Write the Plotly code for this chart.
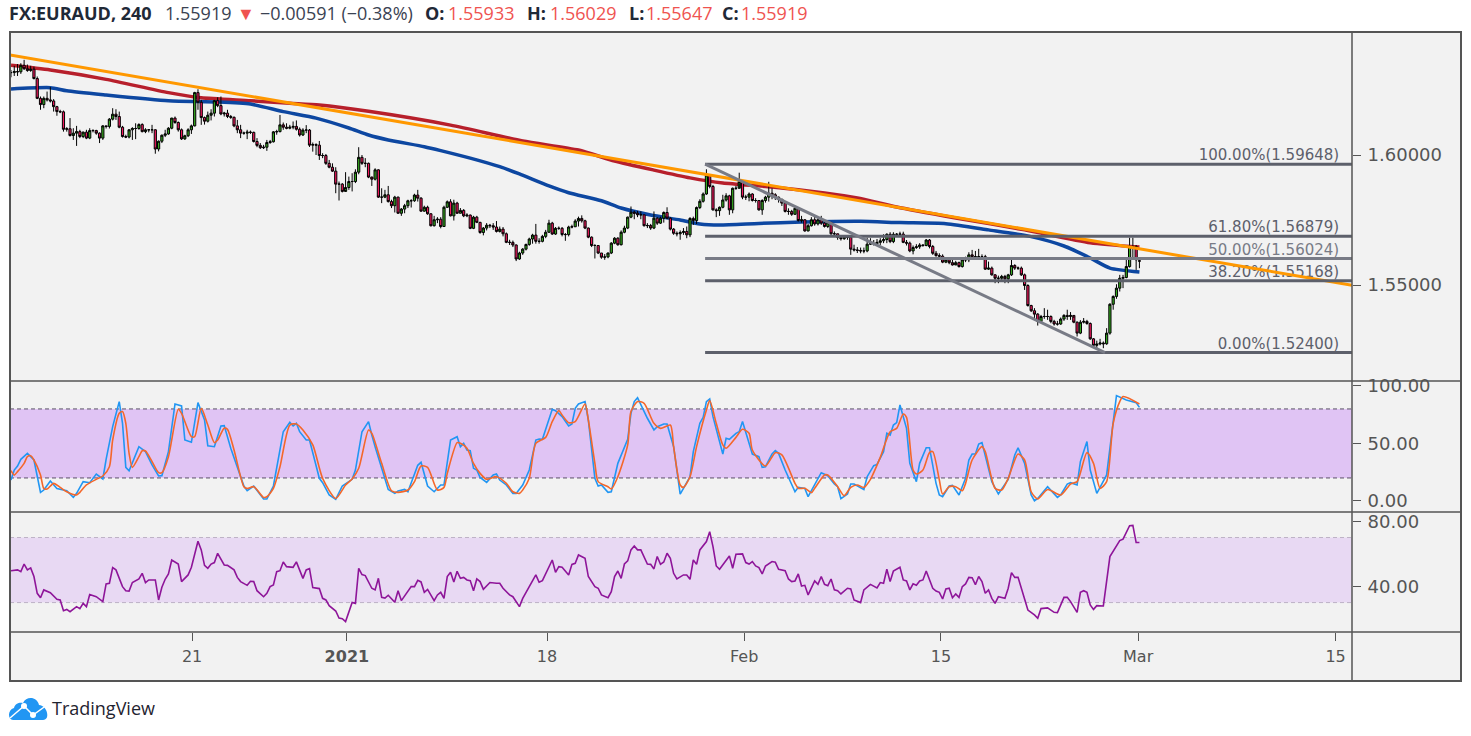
import plotly.graph_objects as go

# precio, velas de 4 horas, una por barra
closes = [1.6317,1.6321,1.6320,1.6345,1.6332,1.6325,1.6330,1.6294,1.6218,1.6194,1.6218,1.6212,1.6208,1.6186,1.6167,1.6166,
          1.6099,1.6101,1.6075,1.6084,1.6090,1.6071,1.6088,1.6065,1.6094,1.6094,1.6084,1.6065,1.6112,1.6110,1.6138,1.6157,
          1.6148,1.6107,1.6071,1.6069,1.6097,1.6102,1.6102,1.6117,1.6090,1.6097,1.6097,1.6097,1.6023,1.6053,1.6076,1.6081,
          1.6103,1.6142,1.6125,1.6097,1.6062,1.6074,1.6097,1.6112,1.6240,1.6203,1.6144,1.6130,1.6153,1.6161,1.6209,1.6190,
          1.6158,1.6161,1.6148,1.6145,1.6112,1.6097,1.6084,1.6084,1.6088,1.6087,1.6052,1.6037,1.6028,1.6030,1.6048,1.6051,
          1.6089,1.6090,1.6116,1.6107,1.6103,1.6107,1.6110,1.6099,1.6077,1.6096,1.6096,1.6038,1.6040,1.6038,1.5998,1.5998,
          1.5968,1.5953,1.5938,1.5888,1.5888,1.5860,1.5875,1.5898,1.5898,1.5934,1.5991,1.5968,1.5968,1.5915,1.5907,1.5943,
          1.5838,1.5838,1.5847,1.5821,1.5805,1.5838,1.5776,1.5792,1.5805,1.5824,1.5824,1.5846,1.5834,1.5784,1.5799,1.5774,
          1.5728,1.5751,1.5753,1.5725,1.5799,1.5820,1.5766,1.5815,1.5776,1.5787,1.5766,1.5769,1.5718,1.5761,1.5741,1.5702,
          1.5719,1.5730,1.5728,1.5723,1.5706,1.5715,1.5697,1.5664,1.5664,1.5654,1.5600,1.5623,1.5638,1.5656,1.5677,1.5692,
          1.5668,1.5668,1.5687,1.5703,1.5738,1.5696,1.5718,1.5718,1.5694,1.5694,1.5723,1.5724,1.5746,1.5756,1.5747,1.5719,
          1.5684,1.5652,1.5652,1.5623,1.5607,1.5608,1.5623,1.5661,1.5680,1.5655,1.5703,1.5719,1.5761,1.5780,1.5776,1.5770,
          1.5770,1.5728,1.5729,1.5719,1.5757,1.5738,1.5757,1.5779,1.5757,1.5715,1.5699,1.5697,1.5702,1.5706,1.5693,1.5756,
          1.5748,1.5798,1.5822,1.5850,1.5923,1.5879,1.5789,1.5786,1.5799,1.5827,1.5843,1.5789,1.5872,1.5872,1.5898,1.5838,
          1.5838,1.5850,1.5825,1.5825,1.5789,1.5825,1.5838,1.5853,1.5847,1.5838,1.5830,1.5815,1.5783,1.5783,1.5772,1.5795,
          1.5748,1.5751,1.5708,1.5728,1.5751,1.5735,1.5751,1.5738,1.5725,1.5740,1.5697,1.5697,1.5683,1.5678,1.5684,1.5684,
          1.5638,1.5635,1.5633,1.5631,1.5631,1.5657,1.5659,1.5659,1.5664,1.5670,1.5675,1.5695,1.5667,1.5695,1.5695,1.5696,
          1.5664,1.5661,1.5631,1.5644,1.5647,1.5654,1.5652,1.5673,1.5648,1.5622,1.5613,1.5611,1.5588,1.5597,1.5586,1.5577,
          1.5586,1.5571,1.5597,1.5597,1.5616,1.5609,1.5609,1.5609,1.5609,1.5561,1.5565,1.5539,1.5526,1.5526,1.5533,1.5524,
          1.5539,1.5575,1.5565,1.5565,1.5539,1.5498,1.5421,1.5401,1.5388,1.5360,1.5379,1.5379,1.5379,1.5360,1.5350,1.5350,
          1.5369,1.5383,1.5379,1.5383,1.5357,1.5315,1.5357,1.5360,1.5352,1.5293,1.5268,1.5273,1.5277,1.5274,1.5315,1.5426,
          1.5456,1.5488,1.5526,1.5529,1.5571,1.5648,1.5648,1.5597,1.55919]
highs = [1.6327,1.6343,1.6350,1.6353,1.6366,1.6348,1.6343,1.6340,1.6302,1.6225,1.6225,1.6244,1.6261,1.6215,1.6189,1.6174,
         1.6171,1.6107,1.6142,1.6103,1.6112,1.6097,1.6090,1.6097,1.6103,1.6099,1.6097,1.6087,1.6115,1.6112,1.6142,1.6180,
         1.6176,1.6167,1.6112,1.6078,1.6099,1.6107,1.6122,1.6122,1.6122,1.6103,1.6099,1.6116,1.6099,1.6056,1.6079,1.6097,
         1.6107,1.6143,1.6148,1.6129,1.6102,1.6078,1.6103,1.6117,1.6243,1.6253,1.6212,1.6148,1.6167,1.6176,1.6212,1.6222,
         1.6225,1.6166,1.6174,1.6154,1.6148,1.6135,1.6116,1.6090,1.6097,1.6094,1.6090,1.6065,1.6046,1.6039,1.6058,1.6058,
         1.6092,1.6097,1.6154,1.6125,1.6122,1.6116,1.6129,1.6133,1.6106,1.6103,1.6115,1.6100,1.6048,1.6045,1.6054,1.6007,
         1.6004,1.5981,1.5968,1.5953,1.5898,1.5892,1.5934,1.5917,1.5930,1.5945,1.6030,1.6000,1.5988,1.5971,1.5917,1.5949,
         1.5945,1.5872,1.5866,1.5881,1.5828,1.5843,1.5840,1.5796,1.5812,1.5828,1.5830,1.5851,1.5866,1.5838,1.5805,1.5805,
         1.5776,1.5766,1.5761,1.5761,1.5805,1.5825,1.5830,1.5828,1.5820,1.5796,1.5792,1.5776,1.5771,1.5766,1.5766,1.5743,
         1.5723,1.5738,1.5735,1.5738,1.5746,1.5725,1.5723,1.5702,1.5674,1.5671,1.5656,1.5628,1.5642,1.5659,1.5682,1.5697,
         1.5735,1.5680,1.5693,1.5712,1.5751,1.5743,1.5723,1.5725,1.5723,1.5700,1.5728,1.5732,1.5753,1.5763,1.5768,1.5751,
         1.5721,1.5687,1.5657,1.5651,1.5623,1.5619,1.5625,1.5665,1.5684,1.5684,1.5710,1.5728,1.5763,1.5802,1.5786,1.5785,
         1.5783,1.5770,1.5738,1.5735,1.5783,1.5761,1.5763,1.5783,1.5799,1.5761,1.5719,1.5706,1.5710,1.5719,1.5725,1.5761,
         1.5763,1.5802,1.5830,1.5856,1.5945,1.5927,1.5885,1.5795,1.5802,1.5847,1.5853,1.5847,1.5875,1.5881,1.5932,1.5904,
         1.5847,1.5856,1.5853,1.5834,1.5827,1.5830,1.5843,1.5897,1.5872,1.5853,1.5840,1.5825,1.5817,1.5795,1.5789,1.5802,
         1.5789,1.5766,1.5753,1.5735,1.5761,1.5763,1.5757,1.5766,1.5751,1.5748,1.5743,1.5706,1.5697,1.5689,1.5692,1.5692,
         1.5687,1.5655,1.5646,1.5644,1.5644,1.5682,1.5680,1.5673,1.5677,1.5680,1.5695,1.5699,1.5703,1.5703,1.5700,1.5705,
         1.5705,1.5673,1.5667,1.5652,1.5657,1.5661,1.5657,1.5677,1.5677,1.5654,1.5631,1.5622,1.5618,1.5603,1.5603,1.5603,
         1.5593,1.5590,1.5603,1.5609,1.5626,1.5635,1.5631,1.5639,1.5618,1.5616,1.5590,1.5571,1.5542,1.5536,1.5539,1.5539,
         1.5543,1.5597,1.5580,1.5571,1.5571,1.5544,1.5503,1.5424,1.5411,1.5392,1.5385,1.5411,1.5405,1.5383,1.5366,1.5362,
         1.5375,1.5388,1.5405,1.5396,1.5373,1.5360,1.5365,1.5373,1.5366,1.5356,1.5296,1.5286,1.5293,1.5283,1.5334,1.5430,
         1.5460,1.5503,1.5539,1.5539,1.5597,1.5682,1.5682,1.5654,1.56029]
lows = [1.6299,1.6304,1.6304,1.6312,1.6327,1.6320,1.6320,1.6291,1.6215,1.6174,1.6180,1.6206,1.6202,1.6167,1.6151,1.6161,
        1.6090,1.6090,1.6071,1.6058,1.6035,1.6065,1.6065,1.6061,1.6061,1.6087,1.6078,1.6046,1.6058,1.6102,1.6102,1.6133,
        1.6135,1.6103,1.6067,1.6065,1.6064,1.6058,1.6061,1.6097,1.6087,1.6084,1.6087,1.6084,1.6005,1.6014,1.6046,1.6069,
        1.6078,1.6099,1.6120,1.6090,1.6058,1.6058,1.6069,1.6081,1.6110,1.6174,1.6116,1.6117,1.6125,1.6133,1.6148,1.6184,
        1.6153,1.6148,1.6142,1.6139,1.6107,1.6084,1.6065,1.6078,1.6061,1.6081,1.6048,1.6030,1.6023,1.6023,1.6016,1.6043,
        1.6048,1.6078,1.6087,1.6097,1.6099,1.6099,1.6099,1.6094,1.6071,1.6073,1.6084,1.6031,1.6013,1.6000,1.5981,1.5988,
        1.5962,1.5949,1.5935,1.5853,1.5825,1.5856,1.5866,1.5866,1.5860,1.5892,1.5926,1.5962,1.5953,1.5911,1.5881,1.5902,
        1.5835,1.5815,1.5834,1.5817,1.5796,1.5779,1.5774,1.5766,1.5776,1.5796,1.5798,1.5820,1.5821,1.5782,1.5782,1.5770,
        1.5725,1.5725,1.5738,1.5718,1.5723,1.5796,1.5764,1.5748,1.5774,1.5776,1.5761,1.5761,1.5715,1.5715,1.5738,1.5697,
        1.5691,1.5710,1.5719,1.5712,1.5702,1.5702,1.5687,1.5661,1.5654,1.5646,1.5592,1.5597,1.5616,1.5633,1.5651,1.5659,
        1.5659,1.5659,1.5664,1.5680,1.5700,1.5693,1.5693,1.5712,1.5687,1.5670,1.5687,1.5718,1.5723,1.5725,1.5740,1.5715,
        1.5680,1.5646,1.5602,1.5619,1.5601,1.5597,1.5603,1.5619,1.5657,1.5651,1.5652,1.5699,1.5715,1.5757,1.5753,1.5761,
        1.5753,1.5725,1.5719,1.5712,1.5715,1.5731,1.5735,1.5740,1.5753,1.5710,1.5693,1.5687,1.5674,1.5693,1.5680,1.5684,
        1.5731,1.5735,1.5792,1.5817,1.5847,1.5872,1.5786,1.5761,1.5766,1.5795,1.5821,1.5770,1.5776,1.5866,1.5891,1.5830,
        1.5827,1.5822,1.5821,1.5817,1.5786,1.5770,1.5817,1.5821,1.5830,1.5827,1.5817,1.5804,1.5779,1.5770,1.5766,1.5770,
        1.5744,1.5740,1.5705,1.5706,1.5725,1.5728,1.5729,1.5731,1.5721,1.5719,1.5693,1.5689,1.5674,1.5671,1.5674,1.5674,
        1.5616,1.5629,1.5623,1.5622,1.5622,1.5626,1.5654,1.5652,1.5654,1.5654,1.5661,1.5661,1.5661,1.5661,1.5686,1.5686,
        1.5661,1.5652,1.5626,1.5618,1.5639,1.5639,1.5647,1.5649,1.5641,1.5616,1.5609,1.5603,1.5584,1.5584,1.5580,1.5575,
        1.5580,1.5567,1.5567,1.5588,1.5588,1.5597,1.5597,1.5597,1.5600,1.5558,1.5558,1.5536,1.5507,1.5507,1.5520,1.5507,
        1.5507,1.5535,1.5558,1.5558,1.5535,1.5481,1.5417,1.5396,1.5366,1.5344,1.5357,1.5370,1.5366,1.5353,1.5344,1.5344,
        1.5347,1.5362,1.5366,1.5366,1.5353,1.5302,1.5311,1.5352,1.5347,1.5289,1.5260,1.5255,1.5268,1.5257,1.5270,1.5309,
        1.5405,1.5447,1.5475,1.5488,1.5526,1.5567,1.5603,1.5558,1.55647]
last_open = 1.55933

# medias moviles (barra, precio)
ma_blue_x = [0,12,17,29,48,63,73,83,93,103,109,115,126,131,140,149,155,164,170,180,186,195,204,210,216,228,241,259,271,285,298,311,321,329,335,344]
ma_blue = [1.6254,1.6259,1.6247,1.6231,1.6209,1.6204,1.6196,1.6167,1.6142,1.6104,1.6077,1.6058,1.6032,1.6017,1.5988,1.5955,1.5927,1.5881,1.5855,1.5824,1.5796,1.5769,1.5750,1.5735,1.5731,1.5737,1.5742,1.5745,1.5740,1.5736,1.5712,1.5686,1.5650,1.5604,1.5565,1.5550]
ma_red_x = [0,12,29,48,58,73,85,94,109,134,156,173,184,196,207,217,232,248,258,270,288,309,329,344]
ma_red = [1.6345,1.6327,1.6291,1.6240,1.6220,1.6209,1.6199,1.6192,1.6168,1.6115,1.6054,1.6019,1.5977,1.5942,1.5912,1.5892,1.5877,1.5854,1.5835,1.5800,1.5758,1.5712,1.5662,1.5646]

# lineas dibujadas
trend_x = [-0.3, 408.8]
trend_y = [1.63846, 1.5499]
wedge_x = [211.6, 333.5]
wedge_y = [1.59648, 1.5240]
fib_x = [211.6, 408.8]
fib_levels = [1.59648, 1.56879, 1.56024, 1.55168, 1.52400]
fib_labels = ["100.00%(1.59648)", "61.80%(1.56879)", "50.00%(1.56024)", "38.20%(1.55168)", "0.00%(1.52400)"]
fib_colors = ["#5d606b", "#5d606b", "#787b86", "#5d606b", "#5d606b"]

# estocastico
stoch_k_x = [0,1,2,3,5,7,9,10,12,14,17,19,20,22,24,26,28,29,31,33,34,35,36,39,41,43,45,46,48,50,52,53,55,57,59,60,62,64,65,67,71,72,74,75,77,78,80,83,85,86,87,88,90,91,94,95,97,99,101,104,105,107,109,110,111,115,117,118,120,121,124,125,127,129,131,132,134,136,137,138,139,140,141,142,143,145,147,148,149,
             151,153,154,156,158,160,161,162,165,166,168,170,171,172,173,175,176,178,179,180,182,183,185,188,189,190,191,192,194,196,197,199,200,202,204,205,207,208,210,211,212,213,214,216,217,218,219,221,222,223,225,226,228,229,230,232,233,234,236,239,240,242,243,245,247,249,251,252,253,255,256,257,260,261,263,264,266,267,268,269,270,271,273,274,276,277,279,280,282,283,284,286,287,289,291,292,293,294,295,296,297,299,301,
             303,304,306,307,309,311,312,313,316,319,320,322,323,325,326,328,329,331,332,334,337,338,340,343,344]
stoch_k = [18.2,26.9,30.4,36.2,41.4,35.6,7.5,9.5,17.3,10.9,8.9,3.1,6.6,16.8,15.9,23.4,19.1,36.2,64.6,86.4,67.5,29.2,26.3,47.2,42.9,31.3,21.7,22,42.9,84.3,82.6,53,51,85.5,70.4,48,47.2,65.2,65.5,45.8,13,8.9,13,9.5,1.7,1.7,13,60.2,68.4,65.2,67.5,60.2,53,53,19.7,15.9,5.2,1.4,13,18.8,26.9,60.2,69,57.3,47.2,10,6.6,8.6,10,8,31,33.6,13,8,13.9,13.9,53,55.9,47.2,50.1,44.3,43.7,28.4,26.9,20.5,16.2,22.6,23.4,18.2,
           13.9,6.6,6.6,13.9,26.9,53,53.9,53.6,79.7,78.5,73.3,65.2,66.9,80.5,84.3,86.4,70.4,19.7,13,13.9,7.5,8,32.7,53.6,76.2,86.4,89.8,83.5,71.9,61.7,64.6,66.9,66.9,47.2,6,11,21.1,42.9,67.5,72.7,86.4,88.7,73.3,51.6,40.8,54.5,53.6,58.8,60.2,69,50.1,40.8,38.5,29.2,29.8,40.8,43.7,41.4,26.9,8,11.8,10.9,3.7,13.9,24.6,22,14.7,12.4,2,6,14.7,14.7,10,21.1,30.7,31.8,42.9,58.8,57.3,66,68.1,83.5,63.1,32.7,16.8,32.7,46.3,46.3,15.3,5.2,3.7,13,13.6,5.2,19.7,35.6,40.8,40.8,49.5,50.7,40,16.8,6,
           15.3,18.8,40,46.3,32.7,5.2,0.2,2.2,12.4,3.1,5.2,14.7,15.9,13.9,34.2,51.6,26.9,6.6,11.8,22.6,91.6,90.1,87.8,85.5,81.4]
stoch_d_x = [0,1,2,4,5,6,7,9,10,11,13,15,17,20,21,23,26,28,30,31,33,34,35,36,37,39,40,41,43,45,46,48,51,52,55,56,58,60,62,63,65,66,68,71,72,74,77,78,80,82,85,87,89,92,95,99,102,104,106,109,110,113,116,118,121,123,125,127,130,132,133,136,137,139,141,143,145,148,
             151,153,155,156,158,160,163,165,167,168,170,172,175,176,178,179,182,183,185,188,189,191,193,196,198,201,202,204,205,207,209,212,213,215,217,218,221,223,225,226,230,233,235,239,240,242,244,245,248,249,252,254,256,258,260,262,265,268,270,272,273,275,276,278,280,281,283,284,286,288,290,291,293,296,297,300,
             302,304,307,309,311,313,316,320,323,325,328,330,332,334,336,338,339,344]
stoch_d = [26.3,22.5,25.5,32.7,38.5,39.4,35.6,22.6,10.9,10.4,15.3,11.8,8,5.2,7.5,13.9,18.8,21.7,29.8,53,76.2,77.7,67.5,41.4,29.2,38.5,43.7,43.4,34.2,24.6,24.6,38.5,79.7,76.2,55.9,55.9,80.5,66,50.7,53,63.2,62.3,44.3,12.4,10.9,12.4,3.1,3.7,10.9,29.8,66,66.9,61.7,48.7,19.7,2.2,13.9,19.1,28.4,61.7,58.8,32.7,8.9,7.5,9.5,16.8,30.4,29.2,9.5,11.8,24,50.7,50.1,45.8,32.7,24,18.8,21.1,
           15.3,8,6.6,9.5,19.7,50.1,55.3,69,78.5,74.8,68.1,69,84.3,70.4,32.7,16.8,12.4,10.4,21.1,48.7,77.7,86.4,84.9,67.5,63.1,66,47.2,13.9,11.8,21.1,47.2,79.1,87.2,67.5,48.7,45.8,55.3,62.3,58.8,44.3,30.4,42,40,15.3,11,11,7.2,11,22.6,22.6,12.4,4.6,11.8,13.9,11.8,18.8,37.9,60.2,63.1,75.6,72.7,26.9,23.4,26.9,42,42.9,18.2,6,12.4,12.4,8.9,15.3,35.6,47.2,42.9,11,
           9.5,19.7,40.8,35.6,8,1.7,10,5.2,14.7,16.8,42,32.7,11,16.8,67.5,86.4,90.7,84.3]

# rsi
rsi_x = [0,2,3,4,5,6,7,8,9,10,12,14,15,16,17,18,20,21,22,23,24,26,28,29,30,31,32,34,35,36,37,39,40,41,42,44,45,46,47,48,49,51,52,54,55,57,58,59,60,61,62,63,65,66,68,69,70,72,73,74,75,77,78,79,80,81,82,83,84,86,87,89,90,91,92,94,95,96,97,99,100,101,102,104,105,106,107,108,110,111,112,113,114,115,117,118,119,121,122,123,124,125,126,127,129,130,131,132,133,134,135,136,137,138,139,140,141,142,143,144,146,148,149,
         150,152,153,155,156,160,161,162,165,166,167,168,170,171,172,173,175,176,178,179,180,182,183,184,185,186,187,188,189,190,191,192,194,195,196,197,198,199,200,201,202,203,205,206,207,208,209,210,212,213,214,215,216,219,220,221,223,224,225,226,227,228,229,230,232,233,234,236,237,238,239,240,241,242,243,245,246,247,248,249,250,251,252,253,255,256,257,259,260,262,264,265,266,267,268,269,271,272,273,274,275,276,277,278,279,281,282,283,284,285,286,287,288,289,290,291,292,293,294,295,296,297,298,299,300,301,
         303,304,305,306,307,308,310,312,313,314,316,318,319,321,322,323,325,326,327,328,329,330,331,333,335,338,339,341,342,343,344]
rsi = [49.6,50.1,49,53.7,50.1,51.3,46,35.7,33,37.8,36.1,32,31.6,25,25.8,24.4,27.5,26.3,29.5,27.5,34.9,33.6,30.6,41.5,41.9,51.5,50.1,39.8,37.3,37.1,42.3,44.5,48,42.3,43.9,43.9,31.6,39.4,44.3,47.6,56.2,53.7,42.9,47,51.7,67.7,62.4,52.9,51.1,53.7,54.6,60.3,53.1,52.9,50.1,45.5,42.9,40.6,43.1,42.9,37.3,33.6,35.7,39.8,40.8,49,49.6,55,52.1,51.7,55,44.9,50.1,50.9,39.2,38.6,32.6,31.6,28.1,24.8,20.5,20.1,18.3,30,29.5,51.1,47.2,46.6,38.8,37.8,44.9,33.2,32.8,34.5,30.2,37.3,31.2,36.7,39.8,39.8,43.7,42.7,36.3,38.1,31.2,34.7,36.3,32.6,46,48.6,42.7,49.2,44.9,45.5,43.9,43.5,37.3,44.5,42.9,38.1,42.3,41.9,41.9,
       38.8,34.7,33.6,27.5,32.6,47,42.5,43.5,56.2,48.6,52.1,51.7,47,53.5,54.1,59.3,57.2,46,39.8,38.8,34.7,33,36.7,46,49.4,44.9,53.7,55.6,62.4,64.8,62.4,62.4,53.7,53.5,50.7,58.3,53.5,55,60.3,57.2,48,44.5,47,47,44.3,56.2,53.5,62.4,67.5,73.6,64.4,52.5,50.5,58.7,51.1,59.7,59.9,54.6,53.7,55.2,52.5,51.5,47.6,52.5,55.2,54.8,50.5,49.6,44.5,42.9,43.3,47.6,40.2,40.6,34.7,43.3,41.2,46,41.2,40.4,44.5,37.8,37.3,35.3,38.8,38.4,31.6,30,37.8,41.2,39,42.3,41.9,50.5,42.9,49.4,51.7,43.9,43.3,37.8,41.5,40.6,43.3,43.9,49.4,38.8,37.1,36.3,32.2,38.4,38.8,33,35.3,33.2,39.8,41.5,45.5,45.3,41,46,42.9,35.7,37.8,32.6,29.5,33.6,
       32.6,38.8,48.4,45.5,45.5,38.8,25.4,22.4,20.3,26.3,26.7,24,23.8,33.2,33.2,30.6,24,36.3,37.3,36.3,28.5,25.8,28.1,27.9,58.3,68.1,69,77.3,77.5,66.9,66.9]

# eje de tiempo
time_ticks = [55.2, 102.4, 163.4, 223.5, 283.5, 343.6, 403.8]
time_labels = ["21", "<b>2021</b>", "18", "Feb", "15", "Mar", "15"]

W, H = 1471, 736
GRAY = "#555555"
PRICE_RANGE = [1.51308, 1.64731]


def px(x):
    return x / W


def py(y):
    return 1 - y / H


def hline(y, x0=10, x1=1461, width=1.5):
    return dict(type="line", xref="paper", yref="paper", x0=px(x0), x1=px(x1), y0=py(y), y1=py(y),
                line=dict(color=GRAY, width=width))


def path(points):
    # puntos en pixeles de la pagina -> path de plotly
    out = []
    for cmd, *xy in points:
        coords = " ".join(f"{px(xy[i]):.5f},{py(xy[i + 1]):.5f}" for i in range(0, len(xy), 2))
        out.append(f"{cmd} {coords}")
    return " ".join(out)


fig = go.Figure()

# medias debajo de las velas
fig.add_trace(go.Scatter(x=ma_red_x, y=ma_red, mode="lines", line=dict(color="#b71f2b", width=3.5, shape="spline", smoothing=0.6),
                         showlegend=False, hoverinfo="skip"))
fig.add_trace(go.Scatter(x=ma_blue_x, y=ma_blue, mode="lines", line=dict(color="#0d47a1", width=3.5, shape="spline", smoothing=0.6),
                         showlegend=False, hoverinfo="skip"))

opens = [closes[0]] + closes[:-1]
opens[-1] = last_open

# todo lo demas va en un eje superpuesto, para quedar encima de las medias
fig.add_trace(go.Candlestick(
    x=list(range(len(closes))), open=opens, high=highs, low=lows, close=closes, yaxis="y4",
    increasing=dict(fillcolor="#35a81f", line=dict(color="#000000", width=1)),
    decreasing=dict(fillcolor="#f0185c", line=dict(color="#000000", width=1)),
    whiskerwidth=0, showlegend=False, hoverinfo="skip",
))

# etiquetas fibonacci antes de la linea naranja
fig.add_trace(go.Scatter(
    x=[404.9] * len(fib_levels), y=fib_levels, yaxis="y4", mode="text", text=fib_labels, textposition="top left",
    textfont=dict(family="DejaVu Sans", size=15, color=fib_colors), showlegend=False, hoverinfo="skip",
))

fig.add_trace(go.Scatter(x=trend_x, y=trend_y, yaxis="y4", mode="lines", line=dict(color="#ff9800", width=3),
                         showlegend=False, hoverinfo="skip"))

for level, color in zip(fib_levels, fib_colors):
    fig.add_trace(go.Scatter(x=fib_x, y=[level, level], yaxis="y4", mode="lines", line=dict(color=color, width=3),
                             showlegend=False, hoverinfo="skip"))
fig.add_trace(go.Scatter(x=wedge_x, y=wedge_y, yaxis="y4", mode="lines", line=dict(color="#787b86", width=3),
                         showlegend=False, hoverinfo="skip"))

fig.add_trace(go.Scatter(x=stoch_k_x, y=stoch_k, yaxis="y2", mode="lines", line=dict(color="#2196f3", width=1.6),
                         showlegend=False, hoverinfo="skip"))
fig.add_trace(go.Scatter(x=stoch_d_x, y=stoch_d, yaxis="y2", mode="lines", line=dict(color="#f4672a", width=1.6, shape="spline", smoothing=0.7),
                         showlegend=False, hoverinfo="skip"))
fig.add_trace(go.Scatter(x=rsi_x, y=rsi, yaxis="y3", mode="lines", line=dict(color="#8e1599", width=1.6),
                         showlegend=False, hoverinfo="skip"))

shapes = [
    # fondo del grafico completo
    dict(type="rect", xref="paper", yref="paper", x0=px(10), x1=px(1461), y0=py(680), y1=py(32),
         fillcolor="#f2f2f2", line=dict(width=0), layer="below"),
    # bandas de los osciladores
    dict(type="rect", xref="x domain", yref="y2", x0=0, x1=1, y0=20, y1=80, fillcolor="#e0c4f4", line=dict(width=0), layer="below"),
    dict(type="rect", xref="x domain", yref="y3", x0=0, x1=1, y0=30, y1=70, fillcolor="#e8d9f3", line=dict(width=0), layer="below"),
    dict(type="line", xref="x domain", yref="y2", x0=0, x1=1, y0=80, y1=80, line=dict(color="#5a5068", width=1, dash="4px,3px"), layer="below"),
    dict(type="line", xref="x domain", yref="y2", x0=0, x1=1, y0=20, y1=20, line=dict(color="#5a5068", width=1, dash="4px,3px"), layer="below"),
    dict(type="line", xref="x domain", yref="y3", x0=0, x1=1, y0=70, y1=70, line=dict(color="#bdb2c6", width=1, dash="4px,3px"), layer="below"),
    dict(type="line", xref="x domain", yref="y3", x0=0, x1=1, y0=30, y1=30, line=dict(color="#bdb2c6", width=1, dash="4px,3px"), layer="below"),
    # marco y separadores
    hline(381), hline(512), hline(632),
    dict(type="line", xref="paper", yref="paper", x0=px(1352), x1=px(1352), y0=py(680), y1=py(32), line=dict(color=GRAY, width=1.5)),
    dict(type="rect", xref="paper", yref="paper", x0=px(10), x1=px(1461), y0=py(681), y1=py(32), line=dict(color=GRAY, width=2)),
    # logo
    dict(type="path", xref="paper", yref="paper", fillcolor="#2196f3", line=dict(width=0),
         path=path([("M", 13, 720), ("C", 8, 720, 7, 710, 14, 708), ("C", 15, 703, 20, 702, 23, 703),
                    ("C", 26, 696, 37, 696, 39, 705), ("C", 47, 705, 51, 720, 43, 720), ("Z",)])),
    dict(type="path", xref="paper", yref="paper", line=dict(color="#ffffff", width=1.5),
         path=path([("M", 10, 718), ("L", 24, 706), ("L", 33, 715), ("L", 47, 705)])),
    dict(type="circle", xref="paper", yref="paper", x0=px(21), x1=px(27), y0=py(709), y1=py(703), fillcolor="#ffffff", line=dict(width=0)),
    dict(type="circle", xref="paper", yref="paper", x0=px(30), x1=px(36), y0=py(718), y1=py(712), fillcolor="#ffffff", line=dict(width=0)),
]

HDR = "Open Sans"
DARK = "#1f2937"
RED = "#ef5350"
header = [
    (8, "<b>FX:EURAUD, 240</b>", DARK, 18), (164, "1.55919", "#3a4252", 18), (236, "▼", RED, 18), (259, "−0.00591 (−0.38%)", "#3a4252", 18),
    (424, "<b>O:</b>", DARK, 18), (447, "1.55933", RED, 18), (526, "<b>H:</b>", DARK, 18), (549, "1.56029", RED, 18),
    (628, "<b>L:</b>", DARK, 18), (645, "1.55647", RED, 18), (721, "<b>C:</b>", DARK, 18), (740, "1.55919", RED, 18),
]
annotations = [
    dict(xref="paper", yref="paper", x=px(x), y=py(12.5), xanchor="left", yanchor="middle", text=t, showarrow=False, borderpad=0,
         font=dict(family=HDR, size=s, color=c))
    for x, t, c, s in header
]
annotations.append(dict(xref="paper", yref="paper", x=px(50), y=py(708), xanchor="left", yanchor="middle", text="TradingView",
                        showarrow=False, font=dict(family=HDR, size=18, color="#1f2430")))

axis_font = dict(family="DejaVu Sans", size=18, color=GRAY)
fig.update_layout(
    width=W, height=H, margin=dict(l=0, r=0, t=0, b=0, autoexpand=False), paper_bgcolor="#ffffff", plot_bgcolor="rgba(0,0,0,0)",
    showlegend=False, shapes=shapes, annotations=annotations, boxgap=0.05,
    xaxis=dict(domain=[px(10), px(1352)], range=[-0.3, 408.8], anchor="y3", rangeslider=dict(visible=False), automargin=False,
               showgrid=False, zeroline=False, tickmode="array", tickvals=time_ticks, ticktext=time_labels,
               ticks="outside", ticklen=8, tickwidth=1, tickcolor=GRAY, ticklabelstandoff=2,
               tickfont=dict(family="DejaVu Sans", size=16, color=GRAY)),
    yaxis=dict(domain=[py(381), py(32)], range=PRICE_RANGE, side="right", anchor="x", showgrid=False, zeroline=False, automargin=False,
               tickmode="array", tickvals=[1.55, 1.60], tickformat=".5f", ticks="outside", ticklen=8, tickcolor=GRAY,
               ticklabelstandoff=3, tickfont=axis_font),
    yaxis2=dict(domain=[py(512), py(381)], range=[-9.6, 104.3], side="right", anchor="x", showgrid=False, zeroline=False, automargin=False,
                tickmode="array", tickvals=[0, 50, 100], tickformat=".2f", ticks="outside", ticklen=8, tickcolor=GRAY,
                ticklabelstandoff=3, tickfont=axis_font),
    yaxis3=dict(domain=[py(632), py(512)], range=[11.9, 85.7], side="right", anchor="x", showgrid=False, zeroline=False, automargin=False,
                tickmode="array", tickvals=[40, 80], tickformat=".2f", ticks="outside", ticklen=8, tickcolor=GRAY,
                ticklabelstandoff=3, tickfont=axis_font),
    yaxis4=dict(overlaying="y", range=PRICE_RANGE, side="right", anchor="x", visible=False, automargin=False),
)

fig.write_html("out.html", config={"displayModeBar": False}, post_script="document.body.style.margin='0';")
